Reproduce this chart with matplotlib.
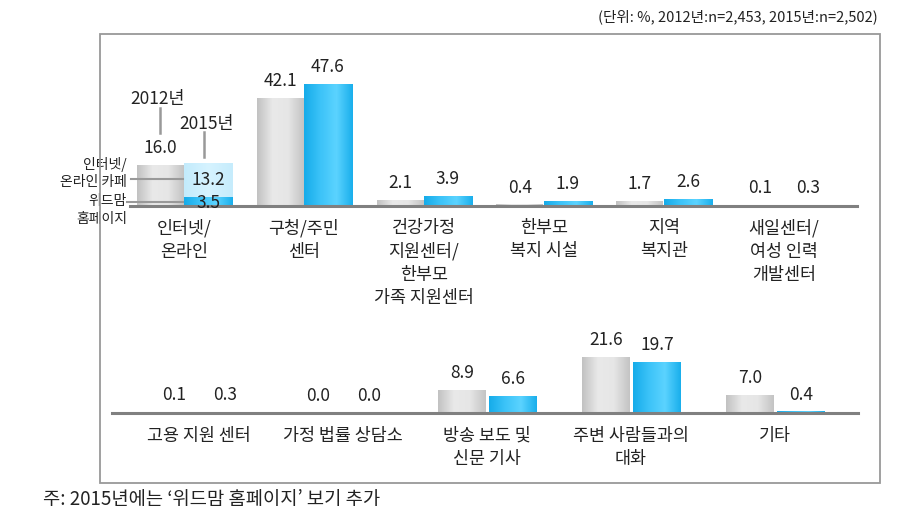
import numpy as np
import matplotlib
matplotlib.use("Agg")
import matplotlib.pyplot as plt
from matplotlib.colors import LinearSegmentedColormap
from matplotlib.patches import Rectangle

plt.rcParams["font.family"] = ["Noto Sans CJK KR", "DejaVu Sans"]

# --- data ---
top_categories = ["인터넷/\n온라인", "구청/주민\n센터", "건강가정\n지원센터/\n한부모\n가족 지원센터",
                  "한부모\n복지 시설", "지역\n복지관", "새일센터/\n여성 인력\n개발센터"]
top_2012 = [16.0, 42.1, 2.1, 0.4, 1.7, 0.1]
top_2015 = [13.2, 47.6, 3.9, 1.9, 2.6, 0.3]
widmom_2015 = 3.5  # 2015 only: '위드맘 홈페이지' stacked under 인터넷/온라인 카페

bottom_categories = ["고용 지원 센터", "가정 법률 상담소", "방송 보도 및\n신문 기사",
                     "주변 사람들과의\n대화", "기타"]
bottom_2012 = [0.1, 0.0, 8.9, 21.6, 7.0]
bottom_2015 = [0.3, 0.0, 6.6, 19.7, 0.4]

W, H = 917, 525
FS = 12.5
GRAY = LinearSegmentedColormap.from_list("g", ["#c2c2c2", "#e9e9e9", "#e6e6e6", "#c4c4c4"])
BLUE = LinearSegmentedColormap.from_list("b", ["#16acea", "#3cc3f8", "#5bd3ff", "#1aafec"])
LIGHT = LinearSegmentedColormap.from_list("l", ["#c3ebfc", "#d6f3ff", "#c6ecfc"])
grad = np.linspace(0, 1, 64).reshape(1, -1)


def px_axes(fig, x0, x1, y0, y1):
    return fig.add_axes([x0 / W, 1 - y1 / H, (x1 - x0) / W, (y1 - y0) / H])


def shade(ax, bars, cmap):
    for p in bars:
        if p.get_height() <= 0:
            continue
        x, y = p.get_x(), p.get_y()
        ax.imshow(grad, cmap=cmap, aspect="auto", zorder=3,
                  extent=(x, x + p.get_width(), y, y + p.get_height()))


def style(ax, xlim, ylim):
    ax.set_xlim(*xlim)
    ax.set_ylim(*ylim)
    for s in ax.spines.values():
        s.set_visible(False)
    ax.set_xticks([])
    ax.set_yticks([])
    ax.patch.set_alpha(0)
    ax.axhline(0, color="#808080", lw=2.2, zorder=5, clip_on=False)


def label(ax, x, v, dy=12.5):
    ax.annotate(f"{v:.1f}", (x, v), xytext=(0, dy), textcoords="offset points",
                ha="center", va="center", fontsize=FS, color="#222222")


fig = plt.figure(figsize=(W / 100, H / 100), dpi=100)

# frame
fig.patches.append(Rectangle((100 / W, 1 - 483 / H), 780 / W, 449 / H, transform=fig.transFigure,
                             fill=False, edgecolor="#999999", lw=1.3))

# --- top panel ---
ax1 = px_axes(fig, 130, 857, 40, 206)
xt = np.arange(len(top_categories))
g1 = ax1.bar(xt - 0.395, top_2012, width=0.385, align="edge", color="#d5d5d5")
b1 = ax1.bar(xt[1:], top_2015[1:], width=0.405, align="edge", color="#33bdf5")
wm = ax1.bar(xt[:1], [widmom_2015], width=0.405, align="edge", color="#33bdf5")
oc = ax1.bar(xt[:1], top_2015[:1], bottom=[widmom_2015], width=0.405, align="edge", color="#cdeffd")
shade(ax1, g1, GRAY)
shade(ax1, b1, BLUE)
shade(ax1, wm, BLUE)
shade(ax1, oc, LIGHT)
style(ax1, (-0.45, 5.61), (0, 65))

for i, v in enumerate(top_2012):
    label(ax1, i - 0.2, v)
for i, v in enumerate(top_2015[1:], start=1):
    label(ax1, i + 0.2, v)
ax1.text(0.2, widmom_2015 + top_2015[0] / 2, f"{top_2015[0]:.1f}", ha="center", va="center",
         fontsize=FS, color="#222222", zorder=6)
ax1.text(0.2, widmom_2015 / 2 - 0.6, f"{widmom_2015:.1f}", ha="center", va="center",
         fontsize=FS, color="#222222", zorder=6)
for i, name in enumerate(top_categories):
    ax1.text(i, -5.0, name, ha="center", va="top", fontsize=FS, linespacing=1.38, color="#222222")

# year pointers
ax1.plot([-0.2, -0.2], [28.6, 38.4], color="#999999", lw=1.8, clip_on=False)
ax1.text(-0.22, 42.0, "2012년", ha="center", va="center", fontsize=FS, color="#222222")
ax1.plot([0.17, 0.17], [19.2, 29.0], color="#999999", lw=1.8, clip_on=False)
ax1.text(0.19, 32.2, "2015년", ha="center", va="center", fontsize=FS, color="#222222")

# legend-like pointers for the stacked bar
ax1.plot([-0.44, -0.01], [10.6, 10.6], color="#999999", lw=1.5, clip_on=False, zorder=4)
ax1.plot([-0.475, -0.01], [1.6, 1.6], color="#999999", lw=1.5, clip_on=False, zorder=4)
ax1.text(-0.475, 12.9, "인터넷/\n온라인 카페", ha="right", va="center", fontsize=10,
         linespacing=1.35, color="#222222")
ax1.text(-0.475, -1.6, "위드맘\n홈페이지", ha="right", va="center", fontsize=10,
         linespacing=1.35, color="#222222")

# --- bottom panel ---
ax2 = px_axes(fig, 112, 858, 330, 413)
xb = np.arange(len(bottom_categories))
g2 = ax2.bar(xb - 0.34, bottom_2012, width=0.333, align="edge", color="#d5d5d5")
b2 = ax2.bar(xb + 0.014, bottom_2015, width=0.333, align="edge", color="#33bdf5")
shade(ax2, g2, GRAY)
shade(ax2, b2, BLUE)
style(ax2, (-0.604, 4.576), (0, 32.5))
for i, (a, b) in enumerate(zip(bottom_2012, bottom_2015)):
    label(ax2, i - 0.17, a)
    label(ax2, i + 0.18, b)
for i, name in enumerate(bottom_categories):
    ax2.text(i, -5.5, name, ha="center", va="top", fontsize=FS, linespacing=1.38, color="#222222")

# texts outside
fig.text(878 / W, 1 - 17 / H, "(단위: %, 2012년:n=2,453, 2015년:n=2,502)", ha="right", va="center",
         fontsize=10.5, color="#222222")
fig.text(43 / W, 1 - 500 / H, "주: 2015년에는 ‘위드맘 홈페이지’ 보기 추가", ha="left", va="center",
         fontsize=13.5, color="#222222")

fig.savefig("out.png", dpi=100)
